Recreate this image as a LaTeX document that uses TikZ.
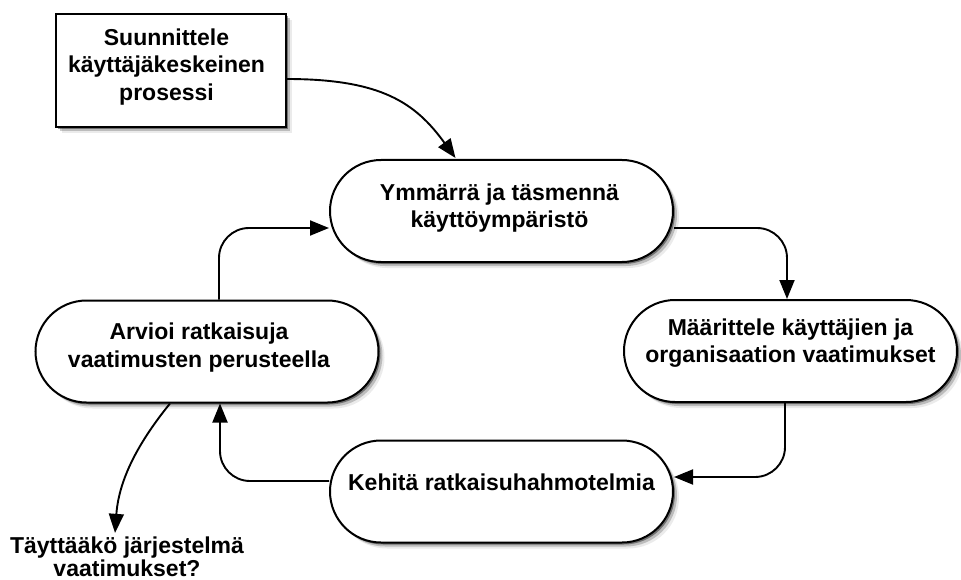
\documentclass[tikz,border=0pt]{standalone}
\usepackage{fontspec}
\setmainfont{Liberation Sans}
\usetikzlibrary{arrows.meta,shadows}
\begin{document}
\begin{tikzpicture}[x=1pt,y=-1pt,
  shad/.style={drop shadow={shadow xshift=2pt,shadow yshift=-2pt,fill=black,opacity=0.4},
               drop shadow={shadow xshift=4pt,shadow yshift=-4pt,fill=black,opacity=0.2},
               drop shadow={shadow xshift=6pt,shadow yshift=-6pt,fill=black,opacity=0.08}},
  pill/.style={rectangle, rounded corners=51pt, draw=black, line width=2pt, fill=white,
               minimum width=343pt, minimum height=102pt, shad},
  sqbox/.style={rectangle, draw=black, line width=2pt, fill=white,
               minimum width=230pt, minimum height=113pt, shad},
  txt/.style={font=\bfseries\fontsize{23pt}{27.5pt}\selectfont, align=center, inner sep=0pt},
  conn/.style={line width=1.9pt, -{Triangle[length=19pt,width=15pt]}, rounded corners=30pt}
]
\useasboundingbox (0,0) rectangle (961,580);

\node[sqbox] (r) at (170.5,70.5) {};
\node[pill] (n1) at (501.5,211) {};
\node[pill, minimum width=333pt] (n2) at (790.5,351) {};
\node[pill] (n3) at (207,351.5) {};
\node[pill] (n4) at (501.5,491.5) {};

\node[txt] at ([xshift=-4pt,yshift=3.5pt]r.center) {Suunnittele\\käyttäjäkeskeinen\\prosessi};
\node[txt] at ([xshift=-2pt,yshift=3pt]n1.center) {Ymmärrä ja täsmennä\\käyttöympäristö};
\node[txt] at ([yshift=8pt]n2.center) {Määrittele käyttäjien ja\\organisaation vaatimukset};
\node[txt] at ([xshift=-8pt,yshift=4pt]n3.center) {Arvioi ratkaisuja\\vaatimusten perusteella};
\node[txt] at ([yshift=9.5pt]n4.center) {Kehitä ratkaisuhahmotelmia};
\node[txt, font=\bfseries\fontsize{23pt}{23pt}\selectfont] (q) at (127,557) {Täyttääkö järjestelmä\\vaatimukset?};

\draw[conn] ([yshift=-8.5pt]r.east) .. controls +(95,0) and +(-40,-55) .. ([xshift=-46pt,yshift=1pt]n1.north);
\draw[conn] ([yshift=-17pt]n1.east) -| ([xshift=-3.5pt]n2.north);
\draw[conn] ([xshift=-5.5pt]n2.south) |- ([yshift=14.5pt]n4.east);
\draw[conn] ([yshift=10.5pt]n4.west) -| ([xshift=13pt]n3.south);
\draw[conn] ([xshift=12pt]n3.north) |- ([yshift=-17pt]n1.west);
\draw[conn] ([xshift=-37pt]n3.south) .. controls +(-30,37) and +(4,-55) .. ([xshift=-12pt,yshift=4pt]q.north);
\end{tikzpicture}
\end{document}
